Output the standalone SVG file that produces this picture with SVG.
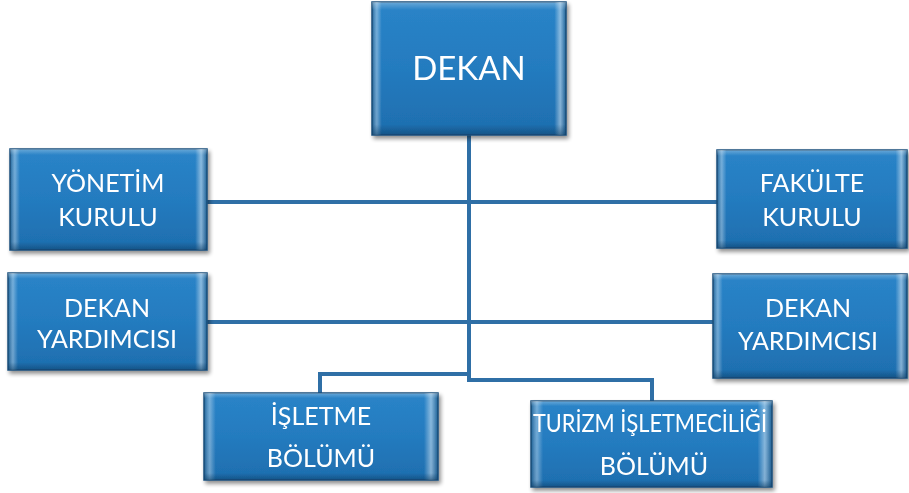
<svg xmlns="http://www.w3.org/2000/svg" width="909" height="493" viewBox="0 0 909 493">
  <defs>
    <linearGradient id="base" x1="0" y1="0" x2="0" y2="1">
      <stop offset="0" stop-color="#2a84c8"/>
      <stop offset="0.5" stop-color="#247bbf"/>
      <stop offset="1" stop-color="#1e6eae"/>
    </linearGradient>
    <linearGradient id="hbevel" x1="0" y1="0" x2="1" y2="0">
      <stop offset="0" stop-color="#0d3e66" stop-opacity="0.5"/>
      <stop offset="0.025" stop-color="#ffffff" stop-opacity="0.35"/>
      <stop offset="0.05" stop-color="#ffffff" stop-opacity="0"/>
      <stop offset="0.94" stop-color="#ffffff" stop-opacity="0"/>
      <stop offset="0.97" stop-color="#ffffff" stop-opacity="0.45"/>
      <stop offset="1" stop-color="#0d3e66" stop-opacity="0.5"/>
    </linearGradient>
    <linearGradient id="vbevel" x1="0" y1="0" x2="0" y2="1">
      <stop offset="0" stop-color="#ffffff" stop-opacity="0.3"/>
      <stop offset="0.06" stop-color="#ffffff" stop-opacity="0"/>
      <stop offset="0.92" stop-color="#0d3e66" stop-opacity="0"/>
      <stop offset="1" stop-color="#0d3e66" stop-opacity="0.55"/>
    </linearGradient>
    <filter id="shadow" x="-10%" y="-10%" width="125%" height="130%">
      <feGaussianBlur in="SourceAlpha" stdDeviation="2"/>
      <feOffset dx="2" dy="3" result="b"/>
      <feComponentTransfer><feFuncA type="linear" slope="0.45"/></feComponentTransfer>
      <feMerge><feMergeNode/><feMergeNode in="SourceGraphic"/></feMerge>
    </filter>
  </defs>
  <style>
    .box { fill: url(#base); stroke: #174f7e; stroke-width: 1.5; }
    .hb { fill: url(#hbevel); }
    .vb { fill: url(#vbevel); }
    .lbl { font-family: Lato, "Liberation Sans", sans-serif; fill: #ffffff; text-anchor: middle; font-size: 25px; }
    .big { font-size: 33px; }
    .conn { fill: none; stroke: #2f6fa6; stroke-width: 4; }
  </style>
  <rect width="909" height="493" fill="#ffffff"/>
  <g id="connectors">
    <path class="conn" d="M469 135 V380 H652 V401"/>
    <path class="conn" d="M320 393 V374 H469"/>
    <path class="conn" d="M207 202 H717"/>
    <path class="conn" d="M207 322 H713"/>
  </g>
  <g id="dekan" filter="url(#shadow)">
    <rect class="box" x="372" y="2" width="194" height="133"/>
    <rect class="hb" x="372" y="2" width="194" height="133"/>
    <rect class="vb" x="372" y="2" width="194" height="133"/>
    <text class="lbl big" x="469" y="80">DEKAN</text>
  </g>
  <g id="yonetim-kurulu" filter="url(#shadow)">
    <rect class="box" x="10" y="149" width="197" height="101"/>
    <rect class="hb" x="10" y="149" width="197" height="101"/>
    <rect class="vb" x="10" y="149" width="197" height="101"/>
    <text class="lbl" x="108" y="192">YÖNETİM</text>
    <text class="lbl" x="108" y="226">KURULU</text>
  </g>
  <g id="fakulte-kurulu" filter="url(#shadow)">
    <rect class="box" x="717" y="150" width="190" height="98"/>
    <rect class="hb" x="717" y="150" width="190" height="98"/>
    <rect class="vb" x="717" y="150" width="190" height="98"/>
    <text class="lbl" x="812" y="192">FAKÜLTE</text>
    <text class="lbl" x="812" y="226">KURULU</text>
  </g>
  <g id="dekan-yardimcisi-left" filter="url(#shadow)">
    <rect class="box" x="8" y="273" width="199" height="97"/>
    <rect class="hb" x="8" y="273" width="199" height="97"/>
    <rect class="vb" x="8" y="273" width="199" height="97"/>
    <text class="lbl" x="107" y="317">DEKAN</text>
    <text class="lbl" x="107" y="348">YARDIMCISI</text>
  </g>
  <g id="dekan-yardimcisi-right" filter="url(#shadow)">
    <rect class="box" x="713" y="274" width="194" height="104"/>
    <rect class="hb" x="713" y="274" width="194" height="104"/>
    <rect class="vb" x="713" y="274" width="194" height="104"/>
    <text class="lbl" x="808" y="317">DEKAN</text>
    <text class="lbl" x="808" y="350">YARDIMCISI</text>
  </g>
  <g id="isletme-bolumu" filter="url(#shadow)">
    <rect class="box" x="204" y="393" width="234" height="87"/>
    <rect class="hb" x="204" y="393" width="234" height="87"/>
    <rect class="vb" x="204" y="393" width="234" height="87"/>
    <text class="lbl" x="321" y="425">İŞLETME</text>
    <text class="lbl" x="321" y="467">BÖLÜMÜ</text>
  </g>
  <g id="turizm-isletmeciligi-bolumu" filter="url(#shadow)">
    <rect class="box" x="531" y="401" width="241" height="86"/>
    <rect class="hb" x="531" y="401" width="241" height="86"/>
    <rect class="vb" x="531" y="401" width="241" height="86"/>
    <text class="lbl" x="650" y="432" textLength="234" lengthAdjust="spacingAndGlyphs">TURİZM İŞLETMECİLİĞİ</text>
    <text class="lbl" x="654" y="475">BÖLÜMÜ</text>
  </g>
</svg>
